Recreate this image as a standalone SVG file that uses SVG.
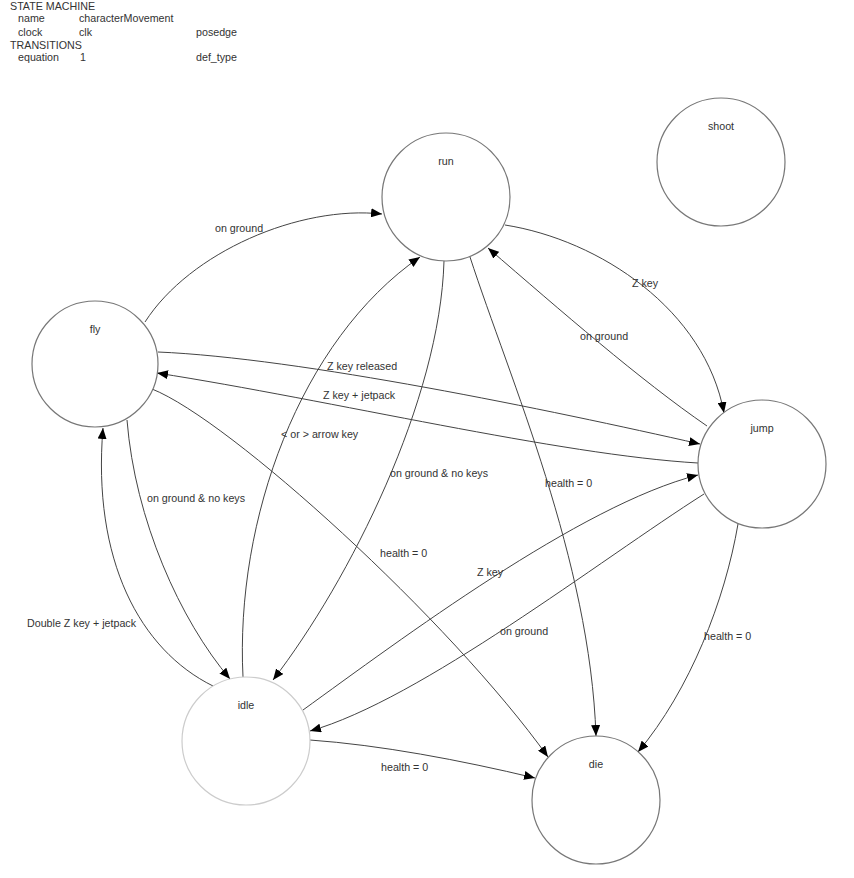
<svg xmlns="http://www.w3.org/2000/svg" width="854" height="878" viewBox="0 0 854 878">
<style>
text{font-family:"Liberation Sans",Arial,sans-serif;font-size:10.7px;fill:#333}
.st{fill:#fff;stroke:#777;stroke-width:1.2}
.st.light{stroke:#ccc}
.lbl{text-anchor:middle}
.e{fill:none;stroke:#444;stroke-width:1;marker-end:url(#ah)}
</style>
<defs>
<marker id="ah" markerUnits="userSpaceOnUse" markerWidth="11" markerHeight="9" refX="11" refY="4.5" orient="auto">
<path d="M0,0 L11,4.5 L0,9 z" fill="#000"/>
</marker>
</defs>
<rect width="854" height="878" fill="#fff"/>
<g id="header">
<text x="10" y="10">STATE MACHINE</text>
<text x="18" y="22">name</text><text x="79" y="22">characterMovement</text>
<text x="18" y="36">clock</text><text x="79" y="36">clk</text><text x="196" y="36">posedge</text>
<text x="10" y="49">TRANSITIONS</text>
<text x="18" y="61">equation</text><text x="80" y="61">1</text><text x="196" y="61">def_type</text>
</g>
<g id="connectors">
<path class="e" d="M145,322 C190,252 300,205 382,214"/>
<path class="e" d="M505,225 C600,240 705,310 724,413"/>
<path class="e" d="M707,426 C640,380 560,310 488,248"/>
<path class="e" d="M158,352 C300,358 550,410 700,444"/>
<path class="e" d="M698,463 C560,455 330,400 157,373"/>
<path class="e" d="M127,420 C135,520 180,620 230,679"/>
<path class="e" d="M213,686 C140,650 92,560 103,428"/>
<path class="e" d="M243,677 C235,520 300,340 420,257"/>
<path class="e" d="M444,261 C440,400 350,580 273,680"/>
<path class="e" d="M470,257 C510,380 590,560 596,736"/>
<path class="e" d="M152,389 C230,420 450,620 548,757"/>
<path class="e" d="M303,710 C400,640 580,505 698,475"/>
<path class="e" d="M704,494 C600,560 420,700 310,731"/>
<path class="e" d="M310,740 C380,745 460,760 535,778"/>
<path class="e" d="M738,524 C725,600 690,690 638,752"/>
<text x="215" y="232">on ground</text>
<text x="632" y="287">Z key</text>
<text x="580" y="340">on ground</text>
<text x="327" y="370">Z key released</text>
<text x="323" y="399">Z key + jetpack</text>
<text x="281" y="438">&lt; or &gt; arrow key</text>
<text x="147" y="502">on ground &amp; no keys</text>
<text x="27" y="627">Double Z key + jetpack</text>
<text x="390" y="477">on ground &amp; no keys</text>
<text x="545" y="487">health = 0</text>
<text x="380" y="557">health = 0</text>
<text x="477" y="576">Z key</text>
<text x="500" y="635">on ground</text>
<text x="704" y="640">health = 0</text>
<text x="381" y="771">health = 0</text>
</g>
<g id="run"><circle class="st" cx="446" cy="197" r="64"/><text class="lbl" x="446" y="165">run</text></g>
<g id="shoot"><circle class="st" cx="721" cy="162" r="64"/><text class="lbl" x="721" y="130">shoot</text></g>
<g id="fly"><circle class="st" cx="95" cy="364" r="63"/><text class="lbl" x="95" y="333">fly</text></g>
<g id="jump"><circle class="st" cx="762" cy="464" r="64"/><text class="lbl" x="762" y="432">jump</text></g>
<g id="idle"><circle class="st light" cx="246" cy="741" r="64"/><text class="lbl" x="246" y="709">idle</text></g>
<g id="die"><circle class="st" cx="596" cy="800" r="64"/><text class="lbl" x="596" y="768">die</text></g>
</svg>
